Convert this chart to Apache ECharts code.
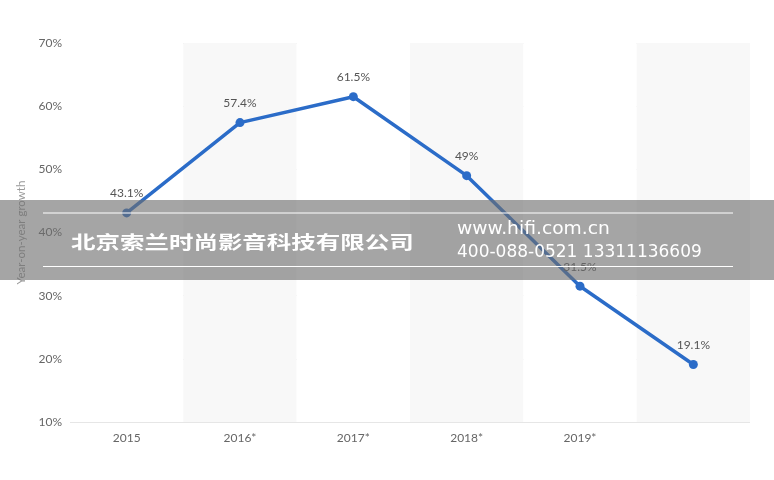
<!DOCTYPE html>
<html><head><meta charset="utf-8">
<script src="https://cdn.jsdelivr.net/npm/echarts@6/dist/echarts.min.js"></script>
<style>html,body{margin:0;padding:0;background:#fff}#c{width:774px;height:480px}</style>
</head><body><div id="c"></div>
<script>
const categories = ['2015', '2016*', '2017*', '2018*', '2019*', ''];
const growth = [43.1, 57.4, 61.5, 49, 31.5, 19.1];
const growthLabels = ['43.1%', '57.4%', '61.5%', '49%', '31.5%', '19.1%'];
const yTicks = [10, 20, 30, 40, 50, 60, 70];
const yAxisTitle = 'Year-on-year growth';
const watermarkCompany = '北京索兰时尚影音科技有限公司';
const watermarkSite = 'www.hifi.com.cn';
const watermarkPhone = '400-088-0521 13311136609';

const chart = echarts.init(document.getElementById('c'));
chart.setOption({
  animation: false,
  backgroundColor: '#fff',
  grid: { left: 70, right: 24, top: 43, bottom: 58 },
  xAxis: {
    type: 'category', data: categories, boundaryGap: true,
    axisLine: { show: false }, axisTick: { show: false },
    axisLabel: { color: '#666', fontSize: 12, margin: 10, fontFamily: 'Lato, sans-serif' },
    splitArea: { show: true, areaStyle: { color: ['#ffffff', '#f8f8f8'] } }
  },
  yAxis: {
    type: 'value', min: yTicks[0], max: yTicks[yTicks.length - 1], interval: 10,
    name: yAxisTitle, nameLocation: 'middle', nameGap: 41, nameRotate: 90,
    nameTextStyle: { color: '#999', fontSize: 11.5, fontFamily: 'Lato, sans-serif' },
    axisLine: { show: false }, axisTick: { show: false },
    axisLabel: { color: '#666', fontSize: 12, margin: 8, formatter: v => v + '%', fontFamily: 'Lato, sans-serif' },
    splitLine: { lineStyle: { color: '#e6e6e6', width: 1 } }
  },
  series: [{
    type: 'line', data: growth, symbol: 'circle', symbolSize: 9,
    lineStyle: { color: '#2b6cc8', width: 3.5 },
    itemStyle: { color: '#2b6cc8' },
    label: {
      show: true, position: 'top', distance: 9, color: '#555', fontSize: 12,
      fontFamily: 'Lato, sans-serif',
      formatter: p => growthLabels[p.dataIndex]
    },
    z: 3
  }],
  graphic: [
    { type: 'rect', left: 0, top: 200, shape: { width: 774, height: 80 },
      style: { fill: 'rgba(110,110,110,0.62)' }, z: 100 },
    { type: 'line', shape: { x1: 43, y1: 213, x2: 733, y2: 213 },
      style: { stroke: '#fff', lineWidth: 1 }, z: 101 },
    { type: 'line', shape: { x1: 43, y1: 266.5, x2: 733, y2: 266.5 },
      style: { stroke: '#fff', lineWidth: 1 }, z: 101 },
    { type: 'text', x: 71, y: 242, scaleX: 1.36, z: 102,
      style: { text: watermarkCompany, fill: '#fff', fontSize: 18, fontWeight: 'bold',
        fontFamily: '"Noto Sans CJK SC", sans-serif', verticalAlign: 'middle', align: 'left' } },
    { type: 'text', x: 457, y: 230, scaleX: 1.1, z: 102,
      style: { text: watermarkSite, fill: '#fff', fontSize: 17,
        fontFamily: '"DejaVu Sans", sans-serif', verticalAlign: 'middle', align: 'left' } },
    { type: 'text', x: 457, y: 253, z: 102,
      style: { text: watermarkPhone, fill: '#fff', fontSize: 17,
        fontFamily: '"DejaVu Sans", sans-serif', verticalAlign: 'middle', align: 'left' } }
  ]
});
</script></body></html>
